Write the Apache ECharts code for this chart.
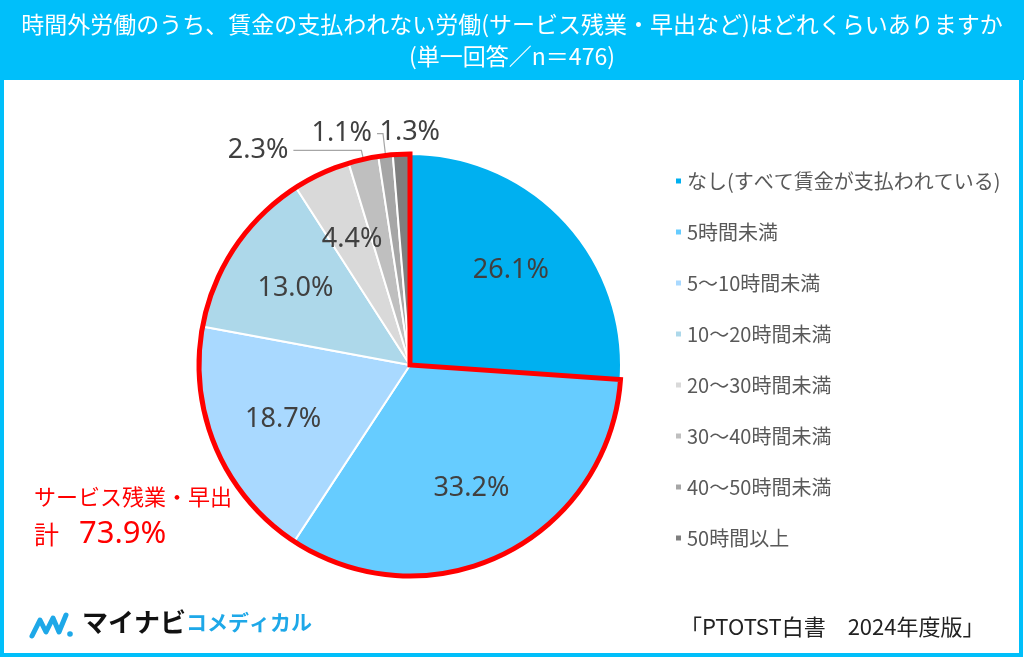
<!DOCTYPE html>
<html>
<head>
<meta charset="utf-8">
<script src="https://cdn.jsdelivr.net/npm/echarts@6/dist/echarts.min.js"></script>
<style>
  html, body { margin: 0; padding: 0; background: #fff; }
  #chart { width: 1024px; height: 659px; }
</style>
</head>
<body>
<div id="chart"></div>
<script>
// 回答カテゴリ
var categories = ['なし(すべて賃金が支払われている)', '5時間未満', '5～10時間未満', '10～20時間未満',
  '20～30時間未満', '30～40時間未満', '40～50時間未満', '50時間以上'];
var shares = [26.1, 33.2, 18.7, 13.0, 4.4, 2.3, 1.1, 1.3];
var colors = ['#00B0F0', '#66CCFF', '#A9D9FF', '#ADD8EA', '#D9D9D9', '#BFBFBF', '#A6A6A6', '#7F7F7F'];
// 外側に出すラベル（小さい区分）と引き出し線の長さ
var outsideLabels = ['30～40時間未満', '40～50時間未満', '50時間以上'];
var lineLen = [9, 22, 22];
var lineLen2 = [68, 6, 0];
// サービス残業・早出 合計
var groupNames = ['なし', 'サービス残業・早出'];
var groupShares = [26.1, 73.9];

var FONT = '"Noto Sans CJK JP", "Noto Sans", sans-serif';
var NUMFONT = '"Noto Sans", "Noto Sans CJK JP", sans-serif';
var CENTER = [410, 365];
var R = 211;

var chart = echarts.init(document.getElementById('chart'));

var mainData = categories.map(function (c, i) {
  var k = outsideLabels.indexOf(c);
  var outside = k >= 0;
  return {
    name: c,
    value: shares[i],
    itemStyle: { color: colors[i] },
    label: { show: outside },
    labelLine: {
      show: outside && lineLen2[k] > 0,
      length: outside ? lineLen[k] : 10,
      length2: outside ? lineLen2[k] : 10
    }
  };
});

var labelData = categories.map(function (c, i) {
  return {
    name: c,
    value: shares[i],
    label: { show: outsideLabels.indexOf(c) < 0 }
  };
});

var pctFmt = function (p) { return p.value.toFixed(1) + '%'; };

var option = {
  animation: false,
  textStyle: { fontFamily: FONT },
  legend: {
    orient: 'vertical',
    left: 669,
    top: 166,
    itemWidth: 7,
    itemHeight: 7,
    itemGap: 31,
    icon: 'rect',
    selectedMode: false,
    textStyle: { fontSize: 20, color: '#595959', fontFamily: FONT },
    data: categories
  },
  graphic: [
    { type: 'rect', shape: { x: 0, y: 0, width: 1024, height: 80 }, style: { fill: '#00BFFA' }, z: 0 },
    { type: 'rect', shape: { x: 2, y: 2, width: 1019, height: 653 }, style: { fill: null, stroke: '#00BFFA', lineWidth: 4 }, z: 0 },
    { type: 'text', left: 'center', top: 13, style: { text: '時間外労働のうち、賃金の支払われない労働(サービス残業・早出など)はどれくらいありますか', fill: '#fff', fontSize: 23, fontFamily: FONT } },
    { type: 'text', left: 'center', top: 45, style: { text: '(単一回答／n＝476)', fill: '#fff', fontSize: 23, fontFamily: FONT } },
    {
      type: 'text', left: 34, top: 486,
      style: {
        text: '{a|サービス残業・早出}\n{b|計}{c|73.9%}',
        rich: {
          a: { fontSize: 22, fill: '#FF0000', fontFamily: FONT, lineHeight: 34 },
          b: { fontSize: 25, fill: '#FF0000', fontFamily: FONT, lineHeight: 40 },
          c: { fontSize: 31, fill: '#FF0000', fontFamily: NUMFONT, lineHeight: 40, padding: [0, 0, 0, 20] }
        }
      }
    },
    // ロゴ
    {
      type: 'polyline',
      shape: { points: [[32, 636], [40, 620], [46, 632], [53, 618], [59, 632], [66, 615]] },
      style: { stroke: '#1EA8E8', lineWidth: 5, fill: null, lineJoin: 'round', lineCap: 'round' }
    },
    { type: 'circle', shape: { cx: 70, cy: 634, r: 2.8 }, style: { fill: '#1EA8E8' } },
    {
      type: 'text', left: 82, top: 609,
      style: {
        text: '{a|マイナビ}{b|コメディカル}',
        rich: {
          a: { fontSize: 26, fontWeight: 'bold', fill: '#111', fontFamily: FONT },
          b: { fontSize: 21, fontWeight: 'bold', fill: '#1EA8E8', fontFamily: FONT }
        }
      }
    },
    { type: 'text', left: 680, top: 616, style: { text: '「PTOTST白書　2024年度版」', fill: '#222', fontSize: 22, fontFamily: FONT } }
  ],
  series: [
    {
      type: 'pie',
      center: CENTER,
      radius: [0, R],
      startAngle: 90,
      clockwise: true,
      avoidLabelOverlap: false,
      silent: true,
      itemStyle: { borderColor: '#fff', borderWidth: 2 },
      label: {
        position: 'outside',
        formatter: pctFmt,
        fontSize: 27,
        color: '#404040',
        fontFamily: NUMFONT
      },
      labelLine: { lineStyle: { color: '#A6A6A6', width: 1.2 } },
      labelLayout: function (p) {
        // 50時間以上のラベルは区分の右側に置く
        if (p.dataIndex === categories.length - 1) {
          return { dx: p.labelRect.width - 16 };
        }
        return {};
      },
      data: mainData,
      z: 2
    },
    {
      type: 'pie',
      center: CENTER,
      radius: [0, 270],
      startAngle: 90,
      clockwise: true,
      silent: true,
      itemStyle: { color: 'rgba(0,0,0,0)' },
      label: {
        position: 'inside',
        formatter: pctFmt,
        fontSize: 27,
        color: '#404040',
        fontFamily: NUMFONT
      },
      labelLine: { show: false },
      data: labelData,
      z: 4
    },
    {
      type: 'pie',
      center: CENTER,
      radius: [0, R],
      startAngle: 90,
      clockwise: true,
      silent: true,
      label: { show: false },
      labelLine: { show: false },
      data: groupNames.map(function (n, i) {
        return {
          name: n,
          value: groupShares[i],
          itemStyle: i === 0
            ? { color: 'rgba(0,0,0,0)', borderWidth: 0 }
            : { color: 'rgba(0,0,0,0)', borderColor: '#FF0000', borderWidth: 5, borderJoin: 'miter' }
        };
      }),
      z: 3
    }
  ]
};

chart.setOption(option);
</script>
</body>
</html>
